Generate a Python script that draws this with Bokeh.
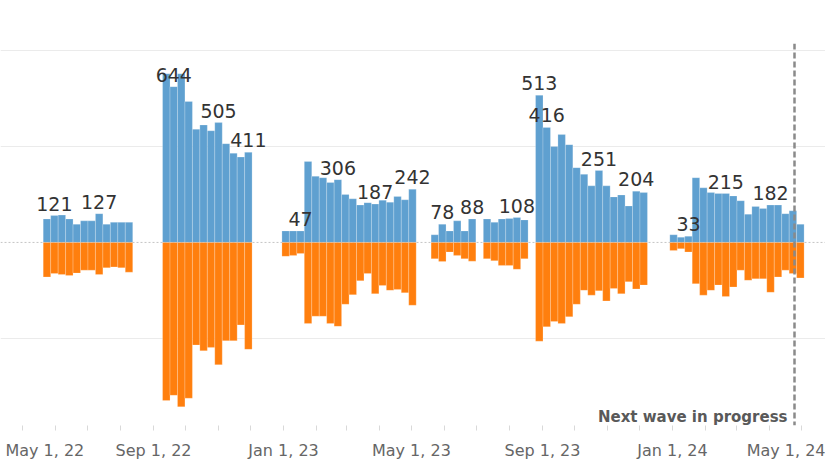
import pandas as pd
from bokeh.plotting import figure
from bokeh.models import Range1d, FixedTicker, Span, Label, ColumnDataSource
from bokeh.core.properties import value
from bokeh.embed import file_html
from bokeh.resources import INLINE

N = None
# weekly series, centre of first week and count
first_week = "2022-05-24"
n_weeks = 102

blue = [
    49, 56, 57, 49, 38, 45, 45, 60, 38, 42, 42, 42,
    N, N, N, N,
    352, 325, 352, 294, 236, 245, 233, 250, 206, 186, 178, 188,
    N, N, N, N,
    24, 24, 24, 169, 138, 135, 125, 131, 100, 91, 78, 83, 80, 88, 84, 96, 89, 111,
    N, N,
    16, 38, 24, 45, 24, 49,
    N,
    49, 42, 49, 50, 52, 47,
    N,
    307, 240, 200, 225, 204, 156, 142, 118, 150, 118, 95, 99, 76, 107, 104,
    N, N, N,
    16, 11, 13, 135, 114, 104, 102, 102, 97, 87, 59, 75, 71, 78, 78, 60, 66, 38,
]
orange = [
    -72, -65, -67, -69, -64, -58, -58, -67, -53, -51, -53, -62,
    N, N, N, N,
    -330, -319, -343, -325, -214, -226, -219, -255, -205, -205, -172, -223,
    N, N, N, N,
    -29, -27, -23, -169, -154, -154, -169, -175, -129, -109, -80, -65, -107, -90, -100, -98, -105, -131,
    N, N,
    -34, -40, -20, -27, -34, -39,
    N,
    -34, -38, -48, -48, -56, -34,
    N,
    -206, -176, -165, -169, -155, -129, -100, -110, -101, -122, -96, -107, -82, -97, -89,
    N, N, N,
    -17, -13, -20, -86, -110, -100, -89, -113, -93, -58, -79, -76, -76, -104, -72, -58, -65, -74,
]

# peak labels: week index and text
label_week = [1, 7, 17, 23, 27, 34, 39, 44, 49, 53, 57, 63, 66, 67, 74, 79, 86, 91, 97]
label_text = ["121", "127", "644", "505", "411", "47", "306", "187", "242", "78", "88",
              "108", "513", "416", "251", "204", "33", "215", "182"]

# x axis labels (first label nudged inward as in the original)
tick_dates = ["2022-05-22", "2022-09-01", "2023-01-01", "2023-05-01", "2023-09-01", "2024-01-01", "2024-05-01"]
tick_labels = ["May 1, 22", "Sep 1, 22", "Jan 1, 23", "May 1, 23", "Sep 1, 23", "Jan 1, 24", "May 1, 24"]

next_wave_date = "2024-04-24 12:00"
next_wave_text = "Next wave in progress"
next_wave_text_y = -365

x_start, x_end = "2022-04-10 10:00", "2024-05-23 14:00"
y_start, y_end = -381.9, 415
grid_values = [-400, -200, 200, 400]


def ms(d):
    return pd.Timestamp(d).timestamp() * 1000.0


weeks = pd.date_range(first_week, periods=n_weeks, freq="7D")
week_ms = [w.timestamp() * 1000.0 for w in weeks]
WEEK = 7 * 24 * 3600 * 1000.0

bx = [week_ms[i] for i in range(n_weeks) if blue[i] is not None]
bt = [blue[i] for i in range(n_weeks) if blue[i] is not None]
ox = [week_ms[i] for i in range(n_weeks) if orange[i] is not None]
ob = [orange[i] for i in range(n_weeks) if orange[i] is not None]

p = figure(width=825, height=462, x_axis_type="datetime",
           x_range=Range1d(ms(x_start), ms(x_end)), y_range=Range1d(y_start, y_end),
           output_backend="svg", toolbar_location=None, y_axis_location=None,
           min_border_left=0, min_border_right=0, min_border_top=43, min_border_bottom=34)
p.outline_line_color = None
p.background_fill_color = "white"
p.border_fill_color = "white"
p.xgrid.visible = False
p.ygrid.ticker = FixedTicker(ticks=grid_values)
p.ygrid.grid_line_color = "#ebebeb"
p.ygrid.grid_line_width = 1

p.add_layout(Span(location=0, dimension="width", line_color="#c4c4c4",
                  line_dash="2 2", line_width=1, level="underlay"))

p.vbar(x=bx, width=WEEK, bottom=0, top=bt, fill_color="#5fa0d0",
       line_color="white", line_alpha=0.3, line_width=0.7)
p.vbar(x=ox, width=WEEK, top=0, bottom=ob, fill_color="#ff7f0e",
       line_color="white", line_alpha=0.3, line_width=0.7)

lsrc = ColumnDataSource(dict(x=[week_ms[k] for k in label_week],
                             y=[blue[k] for k in label_week],
                             t=label_text))
p.text(x="x", y="y", text="t", source=lsrc, text_align="center", text_baseline="alphabetic",
       y_offset=-12, text_font=value("DejaVu Sans"), text_font_size="19px", text_color="#333333")

p.add_layout(Span(location=ms(next_wave_date), dimension="height", line_color="#8a8a8a",
                  line_width=2.5, line_dash="6 3"))
p.add_layout(Label(x=ms(next_wave_date), y=next_wave_text_y, x_offset=-7, text=next_wave_text,
                   text_align="right", text_baseline="alphabetic", text_font="DejaVu Sans",
                   text_font_style="bold", text_font_size="15px", text_color="#595959"))

ax = p.xaxis[0]
month_starts = [d.timestamp() * 1000.0 for d in pd.date_range("2022-05-01", "2024-05-01", freq="MS")]
ax.ticker = FixedTicker(ticks=[ms(d) for d in tick_dates], minor_ticks=month_starts)
ax.major_label_overrides = {ms(d): t for d, t in zip(tick_dates, tick_labels)}
ax.axis_line_color = None
ax.major_tick_line_color = None
ax.major_tick_out = 0
ax.major_tick_in = 0
ax.minor_tick_line_color = "#d9d9d9"
ax.minor_tick_out = 5
ax.minor_tick_in = 0
ax.major_label_standoff = 10
ax.major_label_text_font = "DejaVu Sans"
ax.major_label_text_font_size = "16px"
ax.major_label_text_color = "#666666"

open("out.html", "w").write(file_html(p, INLINE))
